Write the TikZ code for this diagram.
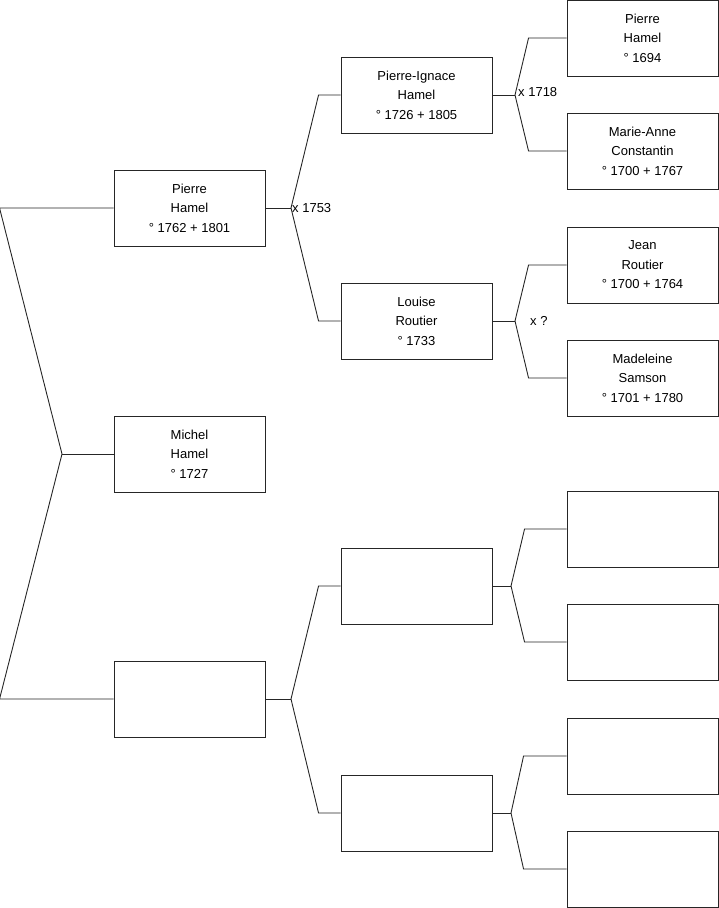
\documentclass[tikz,border=0pt]{standalone}
\usepackage{fontspec}
\setmainfont{Liberation Sans}
\begin{document}
\begin{tikzpicture}[
    x=1pt, y=-1pt,
    person/.style={draw=black!85, line width=0.9pt, minimum width=151pt, minimum height=76pt, inner sep=2pt, align=center, font=\fontsize{13}{19.5}\selectfont},
    link/.style={draw=black!85, line width=0.9pt},
    wed/.style={anchor=west, inner sep=1pt, font=\fontsize{13}{15}\selectfont},
]
\useasboundingbox (0,0) rectangle (719,908);
% generation 1
\node[person] (pP) at (189.5,208) {Pierre\\Hamel\\° 1762 + 1801};
\node[person] (pM) at (189.5,454) {Michel\\Hamel\\° 1727};
\node[person] (pX) at (189.5,699) {};
% generation 2
\node[person] (pPI) at (416.5,95) {Pierre-Ignace\\Hamel\\° 1726 + 1805};
\node[person] (pLR) at (416.5,321) {Louise\\Routier\\° 1733};
\node[person] (pX1) at (416.5,586) {};
\node[person] (pX2) at (416.5,813) {};
% generation 3
\node[person] (pPH) at (642.5,38) {Pierre\\Hamel\\° 1694};
\node[person] (pMA) at (642.5,151) {Marie-Anne\\Constantin\\° 1700 + 1767};
\node[person] (pJR) at (642.5,265) {Jean\\Routier\\° 1700 + 1764};
\node[person] (pMS) at (642.5,378) {Madeleine\\Samson\\° 1701 + 1780};
\node[person] (pX11) at (642.5,529) {};
\node[person] (pX12) at (642.5,642) {};
\node[person] (pX21) at (642.5,756) {};
\node[person] (pX22) at (642.5,869) {};
% fork points
\coordinate (fR) at (62,454);
\coordinate (fP) at (291,208);
\coordinate (fX) at (291,699);
\coordinate (fPI) at (515,95);
\coordinate (fLR) at (515,321);
\coordinate (fX1) at (511,586);
\coordinate (fX2) at (511,813);
% links
\draw[link] (pP.west) -- ++(-114,0) -- (fR) -- ([xshift=-114pt]pX.west) -- (pX.west);
\draw[link] (fR) -- (pM.west);
\draw[link] (pP.east) -- (fP);
\draw[link] (fP) -- ([xshift=-22pt]pPI.west) -- (pPI.west);
\draw[link] (fP) -- ([xshift=-22pt]pLR.west) -- (pLR.west);
\draw[link] (pX.east) -- (fX);
\draw[link] (fX) -- ([xshift=-22pt]pX1.west) -- (pX1.west);
\draw[link] (fX) -- ([xshift=-22pt]pX2.west) -- (pX2.west);
\draw[link] (pPI.east) -- (fPI);
\draw[link] (fPI) -- ([xshift=-38pt]pPH.west) -- (pPH.west);
\draw[link] (fPI) -- ([xshift=-38pt]pMA.west) -- (pMA.west);
\draw[link] (pLR.east) -- (fLR);
\draw[link] (fLR) -- ([xshift=-38pt]pJR.west) -- (pJR.west);
\draw[link] (fLR) -- ([xshift=-38pt]pMS.west) -- (pMS.west);
\draw[link] (pX1.east) -- (fX1);
\draw[link] (fX1) -- ([xshift=-42pt]pX11.west) -- (pX11.west);
\draw[link] (fX1) -- ([xshift=-42pt]pX12.west) -- (pX12.west);
\draw[link] (pX2.east) -- (fX2);
\draw[link] (fX2) -- ([xshift=-43pt]pX21.west) -- (pX21.west);
\draw[link] (fX2) -- ([xshift=-43pt]pX22.west) -- (pX22.west);
% marriages
\node[wed] (mP) at (fP) {x 1753};
\node[wed] (mPI) at ([xshift=2pt,yshift=3pt]fPI) {x 1718};
\node[wed] (mLR) at ([xshift=14pt]fLR) {x ?};
\end{tikzpicture}
\end{document}
